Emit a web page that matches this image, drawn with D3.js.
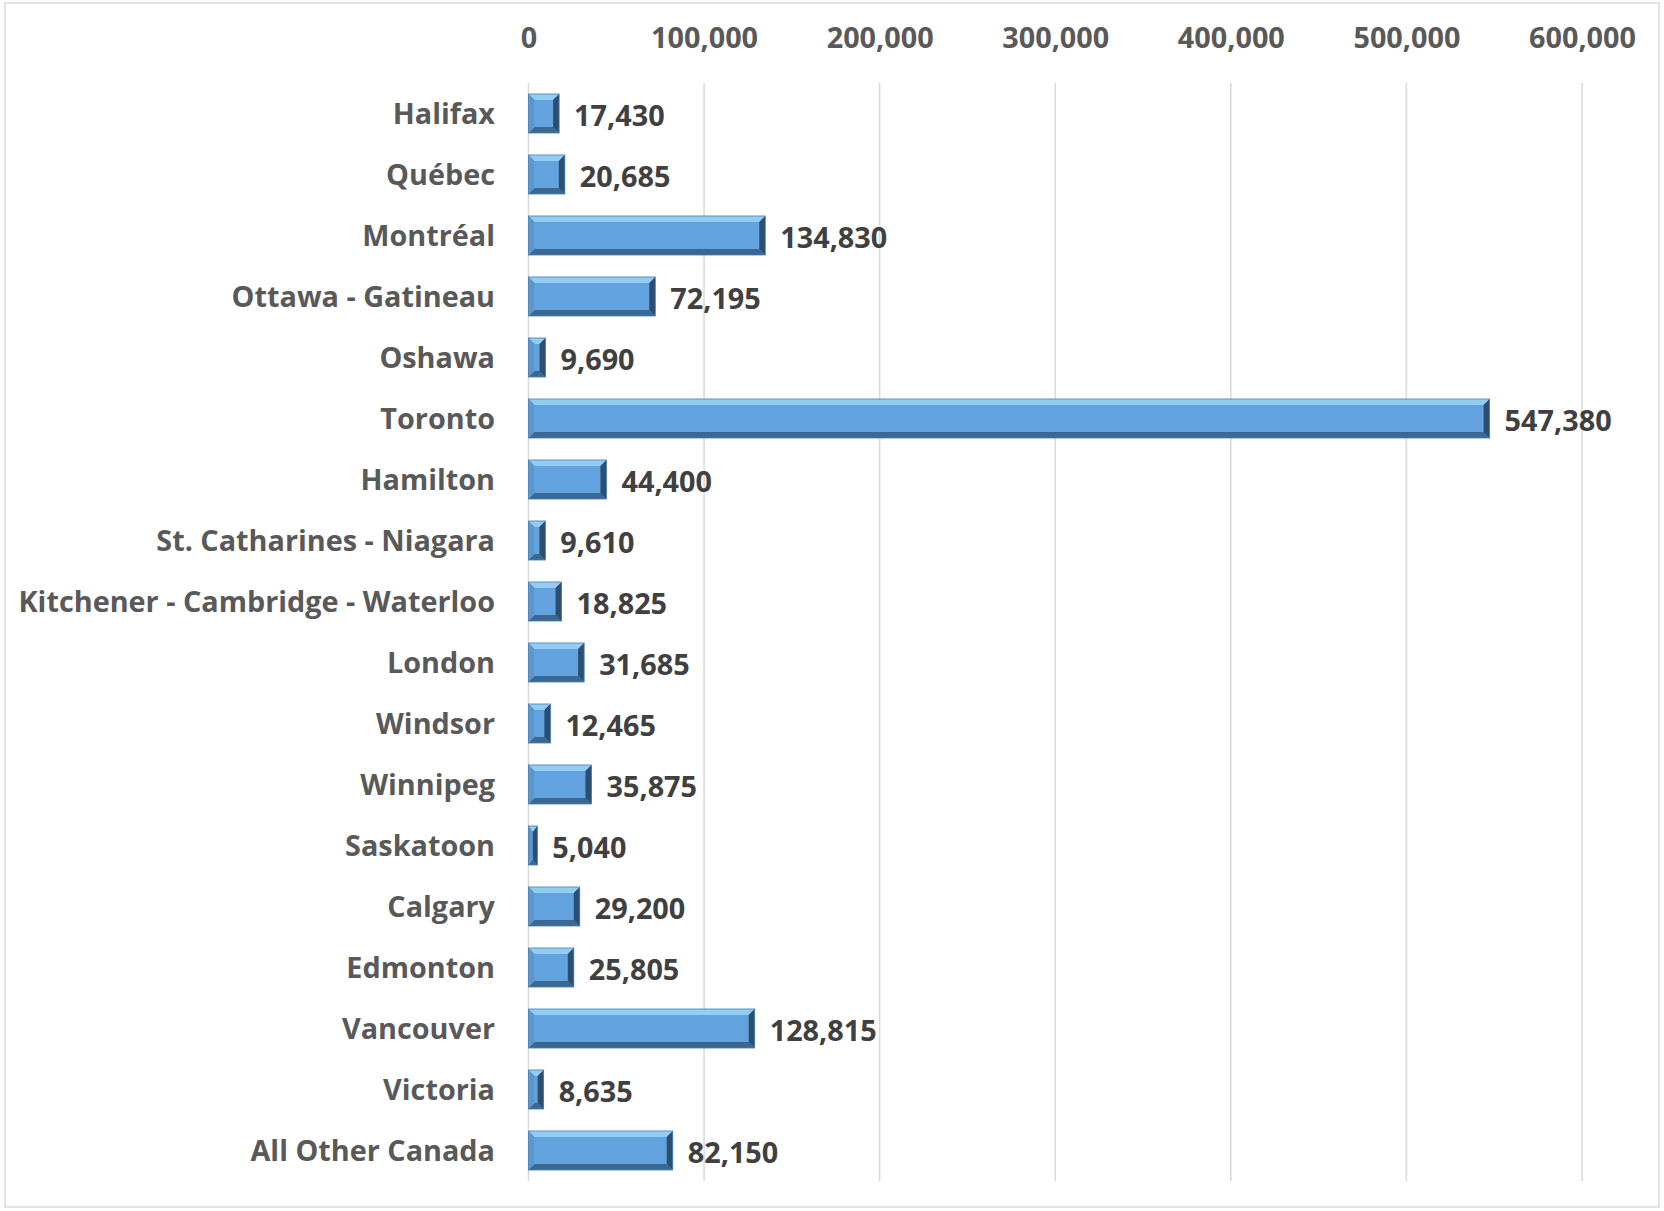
<!DOCTYPE html>
<html><head><meta charset="utf-8">
<script src="https://cdn.jsdelivr.net/npm/d3@7"></script>
<style>body{margin:0;background:#fff}svg{display:block}</style>
</head><body>
<script>
const categories = ["Halifax","Québec","Montréal","Ottawa - Gatineau","Oshawa","Toronto","Hamilton","St. Catharines - Niagara","Kitchener - Cambridge - Waterloo","London","Windsor","Winnipeg","Saskatoon","Calgary","Edmonton","Vancouver","Victoria","All Other Canada"];
const values = [17430,20685,134830,72195,9690,547380,44400,9610,18825,31685,12465,35875,5040,29200,25805,128815,8635,82150];
const tickValues = [0,100000,200000,300000,400000,500000,600000];

const W=1664,H=1211;
const svg=d3.select("body").append("svg").attr("width",W).attr("height",H);
svg.append("rect").attr("x",5).attr("y",3).attr("width",1654).attr("height",1204).attr("fill","#fff").attr("stroke","#d9d9d9").attr("stroke-width",1.5);

const x=d3.scaleLinear().domain([0,600000]).range([528.5,1582]);
const y=d3.scaleBand().domain(categories).range([83,1181]).paddingInner(0.36).paddingOuter(0.18);
const fmt=d3.format(",");
const font="'Open Sans', Lato, sans-serif";
const fs=28.8;

// grid
svg.append("g").selectAll("line").data(tickValues).join("line")
 .attr("x1",d=>x(d)).attr("x2",d=>x(d)).attr("y1",83).attr("y2",1181)
 .attr("stroke","#d9d9d9").attr("stroke-width",1.5);

// top axis
const ax=d3.axisTop(x).tickValues(tickValues).tickFormat(fmt).tickSize(0);
const axg=svg.append("g").attr("transform","translate(0,51)").call(ax);
axg.select(".domain").remove();
axg.selectAll("text").attr("font-family",font).attr("font-weight",700).attr("font-size",fs).attr("fill","#595959").attr("dy",0);

// category labels
const ay=d3.axisLeft(y).tickSize(0).tickPadding(0);
const ayg=svg.append("g").attr("transform","translate(495,1)").call(ay);
ayg.select(".domain").remove();
ayg.selectAll("text").attr("font-family",font).attr("font-weight",700).attr("font-size",fs).attr("fill","#595959");

// bars with bevel
const g=svg.append("g");
const b=6;
const bars=g.selectAll("g.bar").data(categories).join("g").attr("class","bar");
bars.each(function(c,i){
  const x0=x(0),x1=x(values[i]),y0=y(c),y1=y0+y.bandwidth();
  const sel=d3.select(this);
  const bb=Math.min(b,(x1-x0)/2);
  sel.append("rect").attr("x",x0).attr("y",y0).attr("width",x1-x0).attr("height",y1-y0).attr("fill","#62a3df");
  sel.append("polygon").attr("points",[[x0,y0],[x1,y0],[x1-bb,y0+b],[x0+bb,y0+b]].join(" ")).attr("fill","#93cdf3");
  sel.append("polygon").attr("points",[[x0,y1],[x1,y1],[x1-bb,y1-b],[x0+bb,y1-b]].join(" ")).attr("fill","#3a6891");
  sel.append("polygon").attr("points",[[x0,y0],[x0+bb,y0+b],[x0+bb,y1-b],[x0,y1]].join(" ")).attr("fill","#5a97cf");
  sel.append("polygon").attr("points",[[x1,y0],[x1-bb,y0+b],[x1-bb,y1-b],[x1,y1]].join(" ")).attr("fill","#2c4f70");
  sel.append("rect").attr("x",x0).attr("y",y0).attr("width",x1-x0).attr("height",y1-y0).attr("fill","none").attr("stroke","#4a7fb0").attr("stroke-width",0.8);
});

// value labels
g.selectAll("text.val").data(categories).join("text").attr("class","val")
 .attr("x",(c,i)=>x(values[i])+15).attr("y",c=>y(c)+y.bandwidth()/2+2)
 .attr("dy","0.35em").attr("font-family",font).attr("font-weight",700).attr("font-size",fs).attr("fill","#404040")
 .text((c,i)=>fmt(values[i]));
</script>
</body></html>
